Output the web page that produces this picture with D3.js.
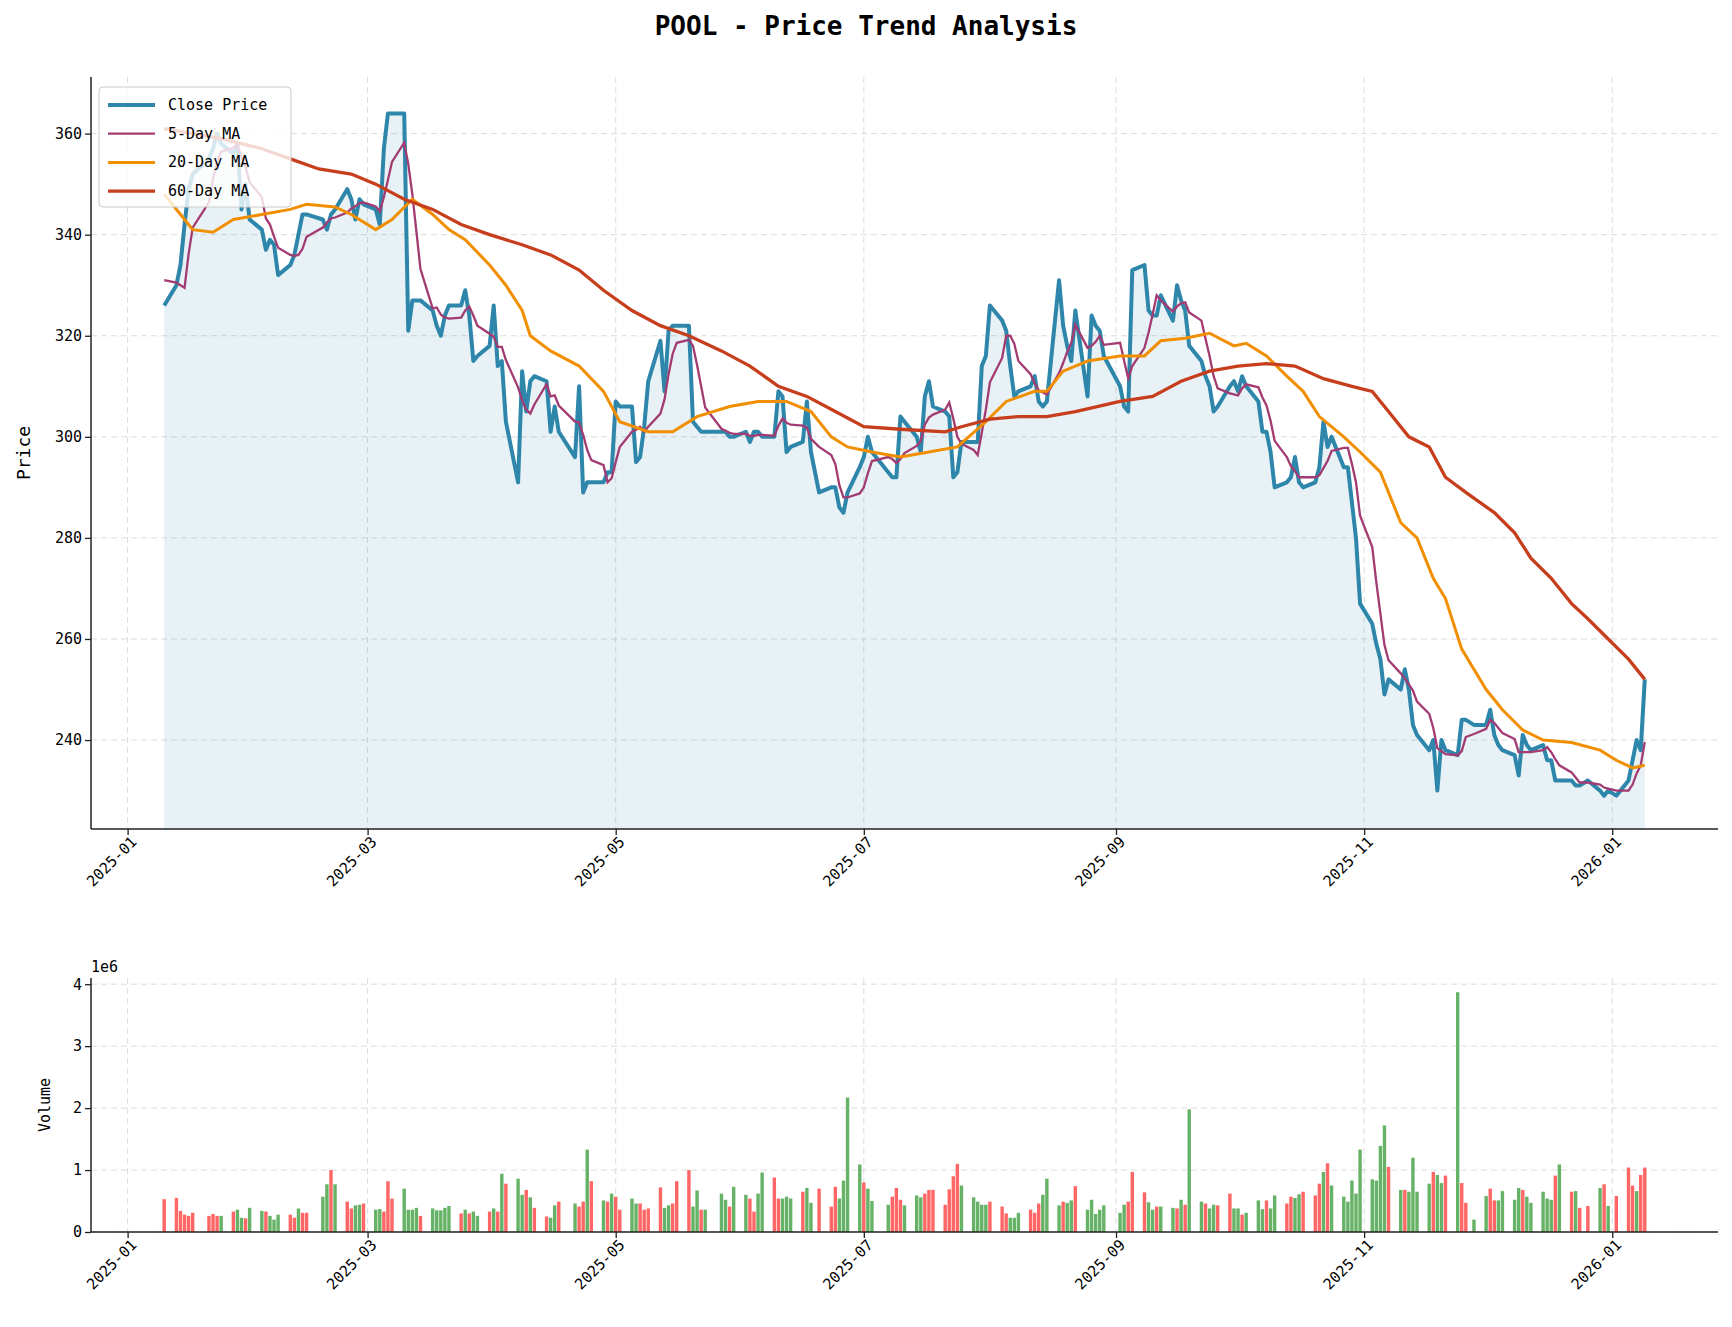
<!DOCTYPE html>
<html><head><meta charset="utf-8">
<script src="https://cdn.jsdelivr.net/npm/d3@7"></script>
<style>body{margin:0;background:#fff}svg{display:block}</style>
</head><body>
<script>
// ---- DATA ----
const holidays = ["2025-01-20","2025-02-17","2025-04-18","2025-05-26","2025-06-19","2025-07-04","2025-09-01","2025-11-27","2025-12-25","2026-01-01"];
const closeByMonth = [
 [326,330,334,342,349,352,355,357,360,358,356,358,345,350,343],
 [341,337,339,338,332,334,336,340,344,344,343,341,344,345,349,347,343,347,346],
 [345,342,357,364,364,364,321,327,327,327,325,322,320,324,326,326,329,324,315,316,318],
 [326,314,315,303,291,313,305,311,312,311,301,306,301,296,310,289,291,291,291,293,293],
 [307,306,306,295,296,302,311,319,309,321,322,322,322,303,302,301,301,301,301,300,300],
 [301,299,301,301,300,300,309,308,297,298,299,307,297,289,290,290,286,285,289,294],
 [296,300,297,293,292,292,304,303,300,297,308,311,306,305,304,292,293,299,299,299,314,316],
 [326,323,321,314,308,309,310,312,307,306,307,331,322,318,315,325,308,324,322,321,316],
 [310,306,305,333,334,325,324,324,328,323,330,327,325,318,315,312,310,305,306,310,311],
 [309,312,310,307,301,301,297,290,291,292,296,291,290,291,294,303,298,300,294,294,287,280,267],
 [263,259,256,249,252,250,254,250,243,241,238,240,230,240,238,237,244,244,243],
 [243,246,241,239,238,237,233,241,239,238,239,236,236,232,232,232,231,231,232,230,229,230],
 [229,232,236,240,238,252]
];
const volByMonth = [
 [0.53,0.55,0.34,0.28,0.26,0.31,0.26,0.29,0.26,0.26,0.33,0.36,0.23,0.22,0.39],
 [0.34,0.33,0.26,0.2,0.28,0.28,0.23,0.38,0.31,0.31,0.57,0.77,1.0,0.77,0.49,0.38,0.43,0.44,0.46],
 [0.36,0.37,0.33,0.82,0.54,0.70,0.36,0.36,0.39,0.26,0.38,0.35,0.35,0.39,0.42,0.3,0.36,0.3,0.33,0.26,0.33],
 [0.38,0.33,0.94,0.78,0.86,0.6,0.68,0.56,0.39,0.25,0.23,0.43,0.49,0.46,0.41,0.49,1.33,0.82,0.51,0.49,0.62],
 [0.57,0.36,0.54,0.46,0.46,0.36,0.38,0.72,0.39,0.43,0.46,0.82,1.0,0.41,0.67,0.36,0.36,0.62,0.52,0.41,0.73],
 [0.6,0.54,0.33,0.62,0.96,0.88,0.54,0.54,0.57,0.54,0.65,0.71,0.47,0.7,0.41,0.73,0.54,0.83,2.17,1.09],
 [0.8,0.7,0.5,0.44,0.57,0.71,0.52,0.43,0.59,0.56,0.62,0.68,0.68,0.44,0.69,0.9,1.1,0.75,0.56,0.49,0.44,0.44],
 [0.49,0.41,0.3,0.23,0.23,0.31,0.36,0.31,0.46,0.6,0.86,0.43,0.49,0.47,0.51,0.74,0.36,0.52,0.29,0.36,0.43],
 [0.31,0.44,0.49,0.97,0.64,0.48,0.36,0.41,0.41,0.39,0.38,0.52,0.44,1.98,0.49,0.46,0.38,0.44,0.43,0.62,0.38],
 [0.38,0.28,0.31,0.51,0.37,0.51,0.38,0.59,0.46,0.57,0.55,0.61,0.65,0.59,0.78,0.97,1.11,0.75,0.57,0.49,0.83,0.62,1.33],
 [0.85,0.83,1.39,1.72,1.05,0.68,0.68,0.65,1.2,0.65,0.78,0.97,0.92,0.79,0.91,3.87,0.79,0.47,0.2],
 [0.58,0.7,0.51,0.51,0.66,0.52,0.71,0.68,0.57,0.47,0.65,0.54,0.52,0.91,1.09,0.65,0.66,0.39,0.42,0.71,0.77,0.42],
 [0.58,1.04,0.75,0.66,0.92,1.04]
];
const volColorByMonth = [
 "RRRRRRRRRGRGGRG","GRGGGRRGRRGGRGRRGGR","GGRRRGGGGRGGGGGRGRGGR","GRGRGGRGRRGGRGRRGRGRG",
 "RRGGRRRRGGRRRGGRGGGRG","GRRGGRRGGGRGGRRRGGGG","RGGGRRRGGGRRRRRRRGGGGG","RRRGGGRRRGGGRGGRGGGGG",
 "GGRRRGGRGGRGRGGRGGRRG","GRGGGRGGRRGGRRRGRGGGGGG","GGGGRGRGGGGRGGRGRRG","GRRGGGGRGGGGGRGRGRRGRG","RRRGRR"
];
const ma5Start = [331,330.5,330,329.5];
const ma20Pts = [["2025-01-10",348],["2025-01-15",343],["2025-01-17",341],["2025-01-22",340.5],["2025-01-27",343],["2025-02-03",344],["2025-02-10",345],["2025-02-14",346],["2025-02-21",345.5],["2025-02-25",344],["2025-03-03",341],["2025-03-07",343],["2025-03-12",347],["2025-03-17",344],["2025-03-21",341],["2025-03-25",339],["2025-03-31",334],["2025-04-04",330],["2025-04-08",325],["2025-04-10",320],["2025-04-15",317],["2025-04-22",314],["2025-04-28",309],["2025-05-02",303],["2025-05-09",301],["2025-05-15",301],["2025-05-21",304],["2025-05-29",306],["2025-06-05",307],["2025-06-12",307],["2025-06-18",305],["2025-06-23",300],["2025-06-27",298],["2025-07-03",297],["2025-07-10",296],["2025-07-17",297],["2025-07-24",298],["2025-07-31",303],["2025-08-05",307],["2025-08-12",309],["2025-08-15",309],["2025-08-19",313],["2025-08-25",315],["2025-09-02",316],["2025-09-08",316],["2025-09-12",319],["2025-09-18",319.5],["2025-09-24",320.5],["2025-09-30",318],["2025-10-03",318.5],["2025-10-08",316],["2025-10-13",312],["2025-10-17",309],["2025-10-21",304],["2025-10-27",300],["2025-10-31",297],["2025-11-05",293],["2025-11-10",283],["2025-11-14",280],["2025-11-18",272],["2025-11-21",268],["2025-11-25",258],["2025-12-01",250],["2025-12-05",246],["2025-12-10",242],["2025-12-15",240],["2025-12-22",239.5],["2025-12-29",238],["2026-01-02",236],["2026-01-06",234.5],["2026-01-09",235]];
const ma60Pts = [["2025-01-10",361],["2025-01-24",359],["2025-02-03",357],["2025-02-10",355],["2025-02-17",353],["2025-02-25",352],["2025-03-03",350],["2025-03-10",347],["2025-03-17",345],["2025-03-24",342],["2025-03-31",340],["2025-04-08",338],["2025-04-15",336],["2025-04-22",333],["2025-04-28",329],["2025-05-05",325],["2025-05-12",322],["2025-05-19",320],["2025-05-27",317],["2025-06-03",314],["2025-06-10",310],["2025-06-17",308],["2025-06-24",305],["2025-07-01",302],["2025-07-10",301.5],["2025-07-21",301],["2025-07-25",302],["2025-08-01",303.5],["2025-08-08",304],["2025-08-15",304],["2025-08-22",305],["2025-09-02",307],["2025-09-10",308],["2025-09-17",311],["2025-09-24",313],["2025-10-01",314],["2025-10-08",314.5],["2025-10-15",314],["2025-10-22",311.5],["2025-10-29",310],["2025-11-03",309],["2025-11-07",305],["2025-11-12",300],["2025-11-17",298],["2025-11-21",292],["2025-11-26",289],["2025-12-03",285],["2025-12-08",281],["2025-12-12",276],["2025-12-17",272],["2025-12-22",267],["2025-12-26",264],["2025-12-31",260],["2026-01-05",256],["2026-01-09",252]];
const xTickLabels = ["2025-01","2025-03","2025-05","2025-07","2025-09","2025-11","2026-01"];
const priceTicks = [240,260,280,300,320,340,360];
const volTicks = [0,1,2,3,4];

// ---- build trading days ----
const parse = d3.utcParse("%Y-%m-%d"), fmt = d3.utcFormat("%Y-%m-%d");
const days = d3.utcDays(parse("2025-01-10"), parse("2026-01-10"))
  .filter(d => d.getUTCDay()!==0 && d.getUTCDay()!==6 && !holidays.includes(fmt(d)));
const close = closeByMonth.flat(), vol = volByMonth.flat(), vcol = volColorByMonth.join("").split("");
const data = days.map((d,i)=>({d, c:close[i], v:vol[i], col:vcol[i]}));
data.forEach((p,i)=>{ p.ma5 = i<4 ? ma5Start[i] : d3.mean(data.slice(i-4,i+1),q=>q.c); });

// ---- layout ----
const W=1732,H=1327;
const svg=d3.select("body").append("svg").attr("width",W).attr("height",H);
const L=91,R=1718, pT=77,pB=829, vT=978,vB=1232;
const font="'DejaVu Sans Mono', monospace";
const x=d3.scaleUtc().domain([parse("2024-12-23"),parse("2026-01-27")]).range([L,R]);
const y=d3.scaleLinear().domain([222.4,371.2]).range([pB,pT]);
const yv=d3.scaleLinear().domain([0,4.1]).range([vB,vT]);
const xt=xTickLabels.map(s=>parse(s+"-01"));

function grid(top,bot,ys,sc){
  const g=svg.append("g").attr("stroke","#dcdcdc").attr("stroke-dasharray","6,4").attr("stroke-width",1);
  xt.forEach(t=>g.append("line").attr("x1",x(t)).attr("x2",x(t)).attr("y1",top).attr("y2",bot));
  ys.forEach(v=>g.append("line").attr("x1",L).attr("x2",R).attr("y1",sc(v)).attr("y2",sc(v)));
}
grid(pT,pB,priceTicks,y); grid(vT,vB,volTicks,yv);

svg.append("path").datum(data).attr("fill","rgba(46,134,171,0.11)")
 .attr("d",d3.area().x(p=>x(p.d)).y0(pB).y1(p=>y(p.c)));
const line=(acc)=>d3.line().x(p=>x(p.d)).y(acc);
svg.append("path").datum(data).attr("fill","none").attr("stroke","#2E86AB").attr("stroke-width",4).attr("stroke-linejoin","round").attr("d",line(p=>y(p.c)));
svg.append("path").datum(data).attr("fill","none").attr("stroke","#A23B72").attr("stroke-width",2.3).attr("d",line(p=>y(p.ma5)));
svg.append("path").datum(ma20Pts).attr("fill","none").attr("stroke","#F18F01").attr("stroke-width",3).attr("d",d3.line().x(p=>x(parse(p[0]))).y(p=>y(p[1])));
svg.append("path").datum(ma60Pts).attr("fill","none").attr("stroke","#C73E1D").attr("stroke-width",3.3).attr("d",d3.line().x(p=>x(parse(p[0]))).y(p=>y(p[1])));

const bw=3.4;
svg.append("g").selectAll("rect").data(data).join("rect")
 .attr("x",p=>x(p.d)-bw/2).attr("width",bw).attr("y",p=>yv(p.v)).attr("height",p=>vB-yv(p.v))
 .attr("fill",p=>p.col==="G"?"#66b266":"#ff6666");

function axes(top,bot,sc,ticks,fmtT){
  const ax=svg.append("g").attr("transform",`translate(0,${bot})`).call(d3.axisBottom(x).tickValues(xt).tickFormat(d3.utcFormat("%Y-%m")).tickSize(6));
  ax.selectAll("text").attr("font-family",font).attr("font-size",15).attr("fill","#000")
    .attr("text-anchor","end").attr("dx","-0.2em").attr("dy","0.5em").attr("transform","rotate(-45)");
  const ay=svg.append("g").attr("transform",`translate(${L},0)`).call(d3.axisLeft(sc).tickValues(ticks).tickFormat(fmtT).tickSize(6));
  ay.selectAll("text").attr("font-family",font).attr("font-size",15).attr("fill","#000");
  [ax,ay].forEach(a=>{a.select(".domain").attr("stroke","#222").attr("stroke-width",1.5);a.selectAll(".tick line").attr("stroke","#222").attr("stroke-width",1.3);});
  ay.select(".domain").attr("d",`M-0,${bot}V${top}`);
  ax.select(".domain").attr("d",`M${L},0H${R}`);
}
axes(pT,pB,y,priceTicks,d3.format("d"));
axes(vT,vB,yv,volTicks,d3.format("d"));

svg.append("text").attr("x",W/2).attr("y",35).attr("text-anchor","middle").attr("font-family",font).attr("font-size",26).attr("font-weight","bold").text("POOL - Price Trend Analysis");
svg.append("text").attr("transform",`translate(30,${(pT+pB)/2}) rotate(-90)`).attr("text-anchor","middle").attr("font-family",font).attr("font-size",18).text("Price");
svg.append("text").attr("transform",`translate(50,${(vT+vB)/2}) rotate(-90)`).attr("text-anchor","middle").attr("font-family",font).attr("font-size",15).text("Volume");
svg.append("text").attr("x",L).attr("y",vT-6).attr("font-family",font).attr("font-size",15).text("1e6");

const lg=svg.append("g");
lg.append("rect").attr("x",99).attr("y",87).attr("width",192).attr("height",120).attr("rx",4).attr("fill","rgba(255,255,255,0.8)").attr("stroke","#ccc");
[["Close Price","#2E86AB",4],["5-Day MA","#A23B72",2.3],["20-Day MA","#F18F01",3],["60-Day MA","#C73E1D",3.3]].forEach((e,i)=>{
  const yy=105+i*28.7;
  lg.append("line").attr("x1",108).attr("x2",155).attr("y1",yy).attr("y2",yy).attr("stroke",e[1]).attr("stroke-width",e[2]);
  lg.append("text").attr("x",168).attr("y",yy+5).attr("font-family",font).attr("font-size",15).text(e[0]);
});
</script>
</body></html>
